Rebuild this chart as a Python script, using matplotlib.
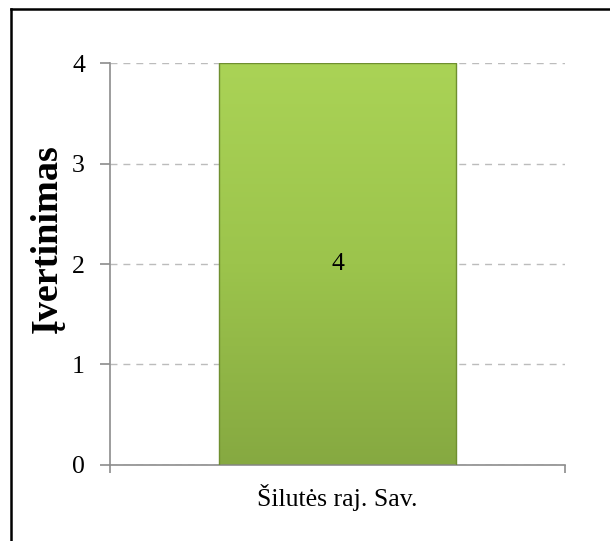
import numpy as np
import matplotlib
matplotlib.use("Agg")
import matplotlib.pyplot as plt
from matplotlib.colors import LinearSegmentedColormap
from matplotlib.lines import Line2D

# duomenys
categories = ["Šilutės raj. Sav."]
values = [4]
y_ticks = [0, 1, 2, 3, 4]
y_label = "Įvertinimas"

plt.rcParams.update({
    "font.family": "Liberation Serif",
    "font.size": 18.5,
})

fig = plt.figure(figsize=(6.1, 5.41), dpi=100)
ax = fig.add_axes([0.1803, 0.1405, 0.7459, 0.743])

x = np.arange(len(categories))
bars = ax.bar(x, values, width=0.523, color="none", edgecolor="#6f8f30",
              linewidth=1.0, zorder=3)

# vertikalus gradientas baro viduje
grad_cmap = LinearSegmentedColormap.from_list("g", ["#86a941", "#9cc44c", "#aad356"])
for b in bars:
    x0, y0 = b.get_x(), b.get_y()
    w, h = b.get_width(), b.get_height()
    img = ax.imshow(np.linspace(0, 1, 256).reshape(-1, 1), cmap=grad_cmap,
                    extent=[x0, x0 + w, y0, y0 + h], origin="lower",
                    aspect="auto", zorder=2)
    img.set_clip_path(b)
    ax.text(x0 + w / 2, h / 2, f"{h:g}", ha="center", va="center",
            fontsize=18.5, color="black", zorder=4)

ax.set_xlim(-0.5, len(categories) - 0.5)
ax.set_ylim(0, 4)
ax.set_yticks(y_ticks)
ax.set_xticks(x)
ax.set_xticklabels(categories)
ax.set_xticks([-0.5, 0.5], minor=True)
ax.tick_params(axis="x", which="major", length=0, pad=14)
ax.tick_params(axis="x", which="minor", length=6, color="#8c8c8c", width=1.2)
ax.tick_params(axis="y", length=7, color="#8c8c8c", width=1.2, pad=11)

ax.grid(axis="y", color="#bcbcbc", linestyle=(0, (5, 4.3)), linewidth=1.0, zorder=0)
ax.set_axisbelow(True)
for s in ["top", "right"]:
    ax.spines[s].set_visible(False)
for s in ["left", "bottom"]:
    ax.spines[s].set_color("#8c8c8c")
    ax.spines[s].set_linewidth(1.2)

ax.set_ylabel(y_label, fontsize=27.5, fontweight="bold")
ax.yaxis.set_label_coords(-0.1, 0.563)

# rėmelis (kairė ir viršus)
W, H = 610, 541
fig.add_artist(Line2D([10.5 / W, 10.5 / W], [0, 1 - 8.5 / H], color="black",
                      linewidth=1.8, transform=fig.transFigure))
fig.add_artist(Line2D([10.5 / W, 1], [1 - 8.5 / H, 1 - 8.5 / H], color="black",
                      linewidth=1.8, transform=fig.transFigure))

fig.savefig("out.png", dpi=100)
